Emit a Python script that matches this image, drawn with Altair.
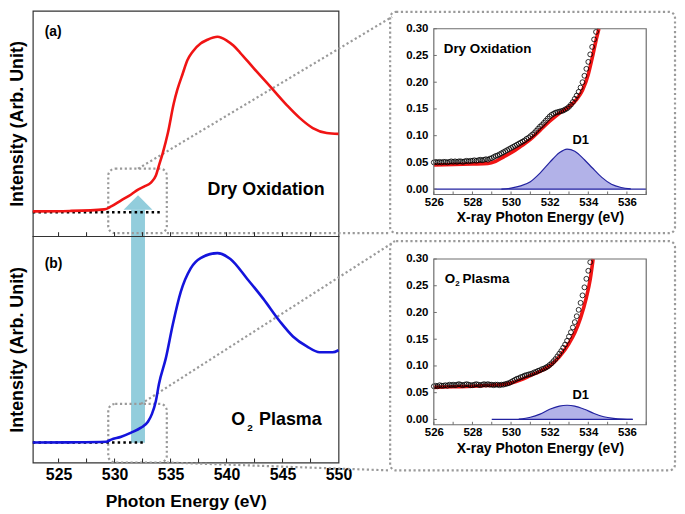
import altair as alt
import pandas as pd

FONT = "Liberation Sans"

# ---------------- main O K-edge spectra (left panels) ----------------
dry_E = [522.70, 526.00, 529.08, 529.70, 530.59, 531.48, 532.10, 532.63, 533.25, 533.69,
         533.96, 534.31, 534.76, 535.29, 535.60, 536.09, 536.50, 536.97, 537.68, 538.30,
         539.19, 540.05, 540.61, 541.20, 542.38, 543.89, 545.40, 546.55, 547.70, 548.94, 550.00]
dry_I = [0.110, 0.112, 0.119, 0.132, 0.159, 0.185, 0.207, 0.220, 0.238, 0.269,
         0.313, 0.370, 0.458, 0.590, 0.649, 0.722, 0.781, 0.819, 0.855, 0.872,
         0.885, 0.867, 0.846, 0.815, 0.748, 0.665, 0.581, 0.524, 0.480, 0.458, 0.454]

plasma_E = [522.70, 526.00, 529.26, 529.70, 530.59, 531.48, 532.36, 532.98, 533.34, 533.69,
            533.96, 534.58, 535.20, 535.91, 536.80, 537.68, 539.19, 540.34, 541.85, 543.27,
            544.77, 545.93, 547.17, 548.32, 549.47, 550.00]
plasma_I = [0.088, 0.089, 0.092, 0.101, 0.114, 0.132, 0.154, 0.180, 0.215, 0.272,
            0.346, 0.461, 0.610, 0.754, 0.858, 0.903, 0.925, 0.899, 0.811, 0.724,
            0.623, 0.557, 0.513, 0.487, 0.487, 0.496]

# dotted pre-edge baselines
dry_base_E = [522.7, 534.14]
dry_base_I = [0.106, 0.106]
plasma_base_E = [522.7, 532.8]
plasma_base_I = [0.088, 0.088]

main_ticks = [525, 527.5, 530, 532.5, 535, 537.5, 540, 542.5, 545, 547.5]
main_labels = [525, 530, 535, 540, 545, 550]

# ---------------- insets ----------------
dry_pts_E = [526.0, 526.1, 526.2, 526.3, 526.4, 526.5, 526.6, 526.7, 526.8, 526.9,
             527.0, 527.1, 527.2, 527.3, 527.4, 527.5, 527.6, 527.7, 527.8, 527.9,
             528.0, 528.1, 528.2, 528.3, 528.4, 528.5, 528.6, 528.7, 528.8, 528.9,
             529.0, 529.1, 529.2, 529.3, 529.4, 529.5, 529.6, 529.7, 529.8, 529.9,
             530.0, 530.1, 530.2, 530.3, 530.4, 530.5, 530.6, 530.7, 530.8, 530.9,
             531.0, 531.1, 531.2, 531.3, 531.4, 531.5, 531.6, 531.7, 531.8, 531.9,
             532.0, 532.1, 532.2, 532.3, 532.4, 532.5, 532.6, 532.7, 532.8, 532.9,
             533.0, 533.1, 533.2, 533.3, 533.4, 533.5, 533.6, 533.7, 533.8, 533.9,
             534.0, 534.1, 534.2, 534.3, 534.4]
dry_pts_I = [0.050, 0.051, 0.050, 0.051, 0.050, 0.051, 0.051, 0.050, 0.051, 0.052,
             0.051, 0.052, 0.051, 0.052, 0.052, 0.051, 0.052, 0.053, 0.052, 0.053,
             0.053, 0.054, 0.053, 0.054, 0.055, 0.054, 0.055, 0.056, 0.055, 0.057,
             0.058, 0.060, 0.062, 0.063, 0.065, 0.067, 0.069, 0.071, 0.073, 0.075,
             0.077, 0.079, 0.081, 0.083, 0.085, 0.087, 0.089, 0.091, 0.094, 0.096,
             0.099, 0.102, 0.105, 0.109, 0.113, 0.117, 0.120, 0.124, 0.128, 0.132,
             0.136, 0.139, 0.141, 0.143, 0.144, 0.145, 0.146, 0.147, 0.149, 0.151,
             0.154, 0.158, 0.163, 0.169, 0.175, 0.182, 0.190, 0.200, 0.212, 0.225,
             0.238, 0.252, 0.266, 0.280, 0.294]
dry_fit_E = [526.0, 527.0, 528.0, 528.8, 529.2, 529.6, 530.0, 530.5, 531.0, 531.5,
             532.0, 532.5, 533.0, 533.4, 533.7, 534.0, 534.2, 534.4, 534.55]
dry_fit_I = [0.045, 0.046, 0.047, 0.048, 0.052, 0.060, 0.068, 0.080, 0.093, 0.110,
             0.127, 0.142, 0.154, 0.168, 0.185, 0.215, 0.245, 0.278, 0.300]
dry_d1_E = [529.5, 530.0, 530.5, 531.0, 531.5, 532.0, 532.5, 532.9, 533.3, 533.8,
            534.2, 534.7, 535.2, 535.7, 536.2]
dry_d1_I = [0.000, 0.002, 0.006, 0.014, 0.030, 0.050, 0.068, 0.075, 0.071, 0.055,
            0.040, 0.022, 0.009, 0.003, 0.0005]
dry_d1_base_E = [526.0, 537.0]

plasma_pts_E = [526.0, 526.1, 526.2, 526.3, 526.4, 526.5, 526.6, 526.7, 526.8, 526.9,
                527.0, 527.1, 527.2, 527.3, 527.4, 527.5, 527.6, 527.7, 527.8, 527.9,
                528.0, 528.1, 528.2, 528.3, 528.4, 528.5, 528.6, 528.7, 528.8, 528.9,
                529.0, 529.1, 529.2, 529.3, 529.4, 529.5, 529.6, 529.7, 529.8, 529.9,
                530.0, 530.1, 530.2, 530.3, 530.4, 530.5, 530.6, 530.7, 530.8, 530.9,
                531.0, 531.1, 531.2, 531.3, 531.4, 531.5, 531.6, 531.7, 531.8, 531.9,
                532.0, 532.1, 532.2, 532.3, 532.4, 532.5, 532.6, 532.7, 532.8, 532.9,
                533.0, 533.1, 533.2, 533.3, 533.4, 533.5, 533.6, 533.7, 533.8, 533.9,
                534.0, 534.1]
plasma_pts_I = [0.062, 0.063, 0.062, 0.064, 0.063, 0.063, 0.064, 0.063, 0.065, 0.064,
                0.065, 0.064, 0.065, 0.066, 0.065, 0.064, 0.065, 0.066, 0.065, 0.064,
                0.064, 0.065, 0.066, 0.065, 0.064, 0.065, 0.066, 0.065, 0.066, 0.065,
                0.065, 0.064, 0.065, 0.065, 0.064, 0.065, 0.065, 0.066, 0.067, 0.068,
                0.070, 0.072, 0.074, 0.076, 0.077, 0.079, 0.080, 0.082, 0.083, 0.084,
                0.085, 0.086, 0.088, 0.089, 0.091, 0.092, 0.094, 0.095, 0.097, 0.099,
                0.102, 0.105, 0.109, 0.113, 0.118, 0.123, 0.128, 0.134, 0.140, 0.147,
                0.155, 0.163, 0.172, 0.182, 0.193, 0.205, 0.218, 0.232, 0.247, 0.263,
                0.278, 0.294]
plasma_fit_E = [526.0, 527.0, 528.0, 529.0, 529.5, 530.0, 530.5, 531.0, 531.5, 532.0,
                532.5, 533.0, 533.3, 533.6, 533.9, 534.1, 534.25]
plasma_fit_I = [0.060, 0.061, 0.062, 0.064, 0.065, 0.068, 0.074, 0.082, 0.090, 0.100,
                0.117, 0.142, 0.162, 0.190, 0.228, 0.262, 0.300]
plasma_d1_E = [530.4, 531.0, 531.5, 532.0, 532.5, 532.9, 533.3, 533.8, 534.3, 534.8,
               535.3, 535.8, 536.3]
plasma_d1_I = [0.0005, 0.004, 0.010, 0.019, 0.025, 0.0265, 0.025, 0.019, 0.011, 0.005,
               0.002, 0.0005, 0.0]
plasma_d1_base_E = [529.0, 536.3]

inset_xticks = [526, 527, 528, 529, 530, 531, 532, 533, 534, 535, 536, 537]
inset_xlabels = [526, 528, 530, 532, 534, 536]
inset_yticks = [0.0, 0.05, 0.10, 0.15, 0.20, 0.25, 0.30]

# ---------------- styles ----------------
RED = "#f01414"
BLUE = "#1414dc"
CYAN = "#92cddc"
GRAY = "#9a9a9a"
GDASH = [2.2, 2.6]
HATCH = "#b2b2e8"
D1LINE = "#2222a0"

one = pd.DataFrame({"k": [0]})


def df(E, I):
    return pd.DataFrame({"E": E, "I": I})


def vtext(txt, x, y, size, align="left"):
    return alt.Chart(one).mark_text(
        text=txt, align=align, baseline="middle", fontSize=size,
        fontWeight="bold", color="black", font=FONT
    ).encode(x=alt.value(x), y=alt.value(y))


def vrule(x, y, x2, y2, color=GRAY, width=2.2, dash=GDASH):
    return alt.Chart(one).mark_rule(color=color, strokeWidth=width, strokeDash=dash).encode(
        x=alt.value(x), y=alt.value(y), x2=alt.value(x2), y2=alt.value(y2))


def vbox(x, y, x2, y2, radius):
    return alt.Chart(one).mark_rect(
        fill="transparent", stroke=GRAY, strokeWidth=2.2, strokeDash=GDASH,
        cornerRadius=radius
    ).encode(x=alt.value(x), y=alt.value(y), x2=alt.value(x2), y2=alt.value(y2))


# ---------------- left panels ----------------
PW = 308
HA, HB = 227, 228
xl = alt.Scale(domain=[522.7, 550], nice=False)
yl = alt.Scale(domain=[0, 1], nice=False, zero=False)
yl_axis = alt.Axis(title="Intensity (Arb. Unit)", labels=False, ticks=False, domain=False,
                   grid=False, titleFontSize=18, titlePadding=6)
Ya = alt.Y("I:Q", scale=yl, axis=yl_axis)
Xa = alt.X("E:Q", scale=xl, axis=None)
Xb = alt.X("E:Q", scale=xl, axis=alt.Axis(
    values=main_labels, format="d", ticks=False, domain=False, grid=False,
    labelFontSize=16, labelPadding=4, labelFlush=False,
    title="Photon Energy (eV)", titleFontSize=17.5, titlePadding=10))

shaft = alt.Chart(one).mark_rect(color=CYAN).encode(
    x=alt.value(99), x2=alt.value(113), y=alt.value(200), y2=alt.value(435))
head = alt.Chart(one).mark_point(
    shape="M-1,0.5L0,-0.5L1,0.5Z", filled=True, color=CYAN, opacity=1, size=841
).encode(x=alt.value(106), y=alt.value(193))

panelA = alt.layer(
    shaft, head,
    vbox(76, 159, 135, 224, 7),
    vrule(106, 159, 362, 6),
    vrule(135, 224, 360, 224),
    alt.Chart(df(dry_base_E, dry_base_I)).mark_line(
        color="black", strokeWidth=2.5, strokeDash=[2.5, 3.2]).encode(x=Xa, y=Ya),
    alt.Chart(df(dry_E, dry_I)).mark_line(
        color=RED, strokeWidth=2.6, interpolate="monotone").encode(x=Xa, y=Ya),
    alt.Chart(pd.DataFrame({"E": main_ticks})).mark_rule(color="#222", strokeWidth=1).encode(
        x=Xa, y=alt.value(HA), y2=alt.value(HA - 4)),
    vtext("(a)", 12, 21, 14),
    vtext("Dry Oxidation", 176, 181, 18),
).properties(width=PW, height=HA)

panelB = alt.layer(
    vbox(76, 169, 135, 228, 7),
    vrule(109, 169, 362, 7),
    vrule(135, 228, 360, 236),
    alt.Chart(df(plasma_base_E, plasma_base_I)).mark_line(
        color="black", strokeWidth=2.5, strokeDash=[2.5, 3.2]).encode(x=Xb, y=Ya),
    alt.Chart(df(plasma_E, plasma_I)).mark_line(
        color=BLUE, strokeWidth=2.6, interpolate="monotone").encode(x=Xb, y=Ya),
    alt.Chart(pd.DataFrame({"E": main_ticks})).mark_rule(color="#222", strokeWidth=1).encode(
        x=Xb, y=alt.value(HB), y2=alt.value(HB - 4)),
    vtext("(b)", 12, 28, 14),
    vtext("O", 200, 185, 18),
    vtext("2", 216, 193, 10),
    vtext("Plasma", 228, 185, 18),
).properties(width=PW, height=HB)

# ---------------- insets ----------------
IW = 214
xi = alt.Scale(domain=[526, 537], nice=False)


def inset(h, rng, off, pts, fit, d1, d1base, name_layers, d1xy, border):
    Xi = alt.X("E:Q", scale=xi, axis=alt.Axis(
        values=inset_xlabels, format="d", ticks=False, domain=False, grid=False,
        labelFontSize=11.5, labelPadding=2, labelFlush=False,
        title="X-ray Photon Energy (eV)", titleFontSize=14, titlePadding=3, offset=off))
    Yi = alt.Y("I:Q", scale=alt.Scale(domain=[-0.01, 0.30], nice=False, zero=False, range=rng),
               axis=alt.Axis(values=inset_yticks, format=".2f", ticks=False, domain=False,
                             grid=False, labelFontSize=11.5, labelPadding=6, labelFlush=False,
                             title=""))
    bottom = rng[0]
    frame = alt.Chart(pd.DataFrame({"E": [526], "E2": [537], "I": [-0.01], "I2": [0.30]})).mark_rect(
        fill="transparent", stroke="#6e6e6e", strokeWidth=1.2).encode(
        x=Xi, x2=alt.X2("E2"), y=Yi, y2=alt.Y2("I2"))
    layers = [
        vbox(border[0], border[1], border[2], border[3], 6),
        alt.Chart(df(d1[0], d1[1])).mark_area(color=HATCH, opacity=1,
                                              interpolate="monotone").encode(x=Xi, y=Yi),
        alt.Chart(df(d1base, [0, 0])).mark_line(color=D1LINE, strokeWidth=1.3).encode(x=Xi, y=Yi),
        alt.Chart(df(d1[0], d1[1])).mark_line(color=D1LINE, strokeWidth=1.2,
                                              interpolate="monotone").encode(x=Xi, y=Yi),
        alt.Chart(df(fit[0], fit[1])).mark_line(color=RED, strokeWidth=3.6,
                                                interpolate="monotone").encode(x=Xi, y=Yi),
        alt.Chart(df(pts[0], pts[1])).mark_point(
            shape="circle", filled=False, color="black", strokeWidth=0.8, size=24, opacity=1
        ).encode(x=Xi, y=Yi),
        frame,
        alt.Chart(pd.DataFrame({"E": inset_xticks})).mark_rule(color="#6e6e6e", strokeWidth=1).encode(
            x=Xi, y=alt.value(bottom), y2=alt.value(bottom - 3)),
        alt.Chart(pd.DataFrame({"I": inset_yticks})).mark_rule(color="#6e6e6e", strokeWidth=1).encode(
            y=Yi, x=alt.value(0), x2=alt.value(3)),
        vtext("D1", d1xy[0], d1xy[1], 13, align="center"),
    ] + name_layers
    return alt.layer(*layers).properties(
        width=IW, height=h, view=alt.ViewBackground(stroke="transparent"))


insetA = inset(HA, [185, 18], -42, (dry_pts_E, dry_pts_I), (dry_fit_E, dry_fit_I),
               (dry_d1_E, dry_d1_I), dry_d1_base_E,
               [vtext("Dry Oxidation", 10, 38, 13.5)], (148, 130), (-44, 1, 243, 224))
insetB = inset(HB, [190, 23], -38, (plasma_pts_E, plasma_pts_I), (plasma_fit_E, plasma_fit_I),
               (plasma_d1_E, plasma_d1_I), plasma_d1_base_E,
               [vtext("O", 11, 43, 13.5), vtext("2", 21.5, 48, 8), vtext("Plasma", 29, 43, 13.5)],
               (148, 160), (-44, 5, 243, 236))

chart = alt.ConcatChart(
    concat=[panelA, insetA, panelB, insetB], columns=2,
    spacing=alt.RowColnumber(row=0, column=96), bounds="flush", align="each"
).properties(padding=0, background="white").configure(font=FONT).configure_axis(
    labelFont=FONT, titleFont=FONT, labelFontWeight="bold", titleFontWeight="bold",
    labelColor="black", titleColor="black"
).configure_view(stroke="#333", strokeWidth=1.2)

chart.save("out.html", embed_options={"renderer": "svg", "actions": False})
